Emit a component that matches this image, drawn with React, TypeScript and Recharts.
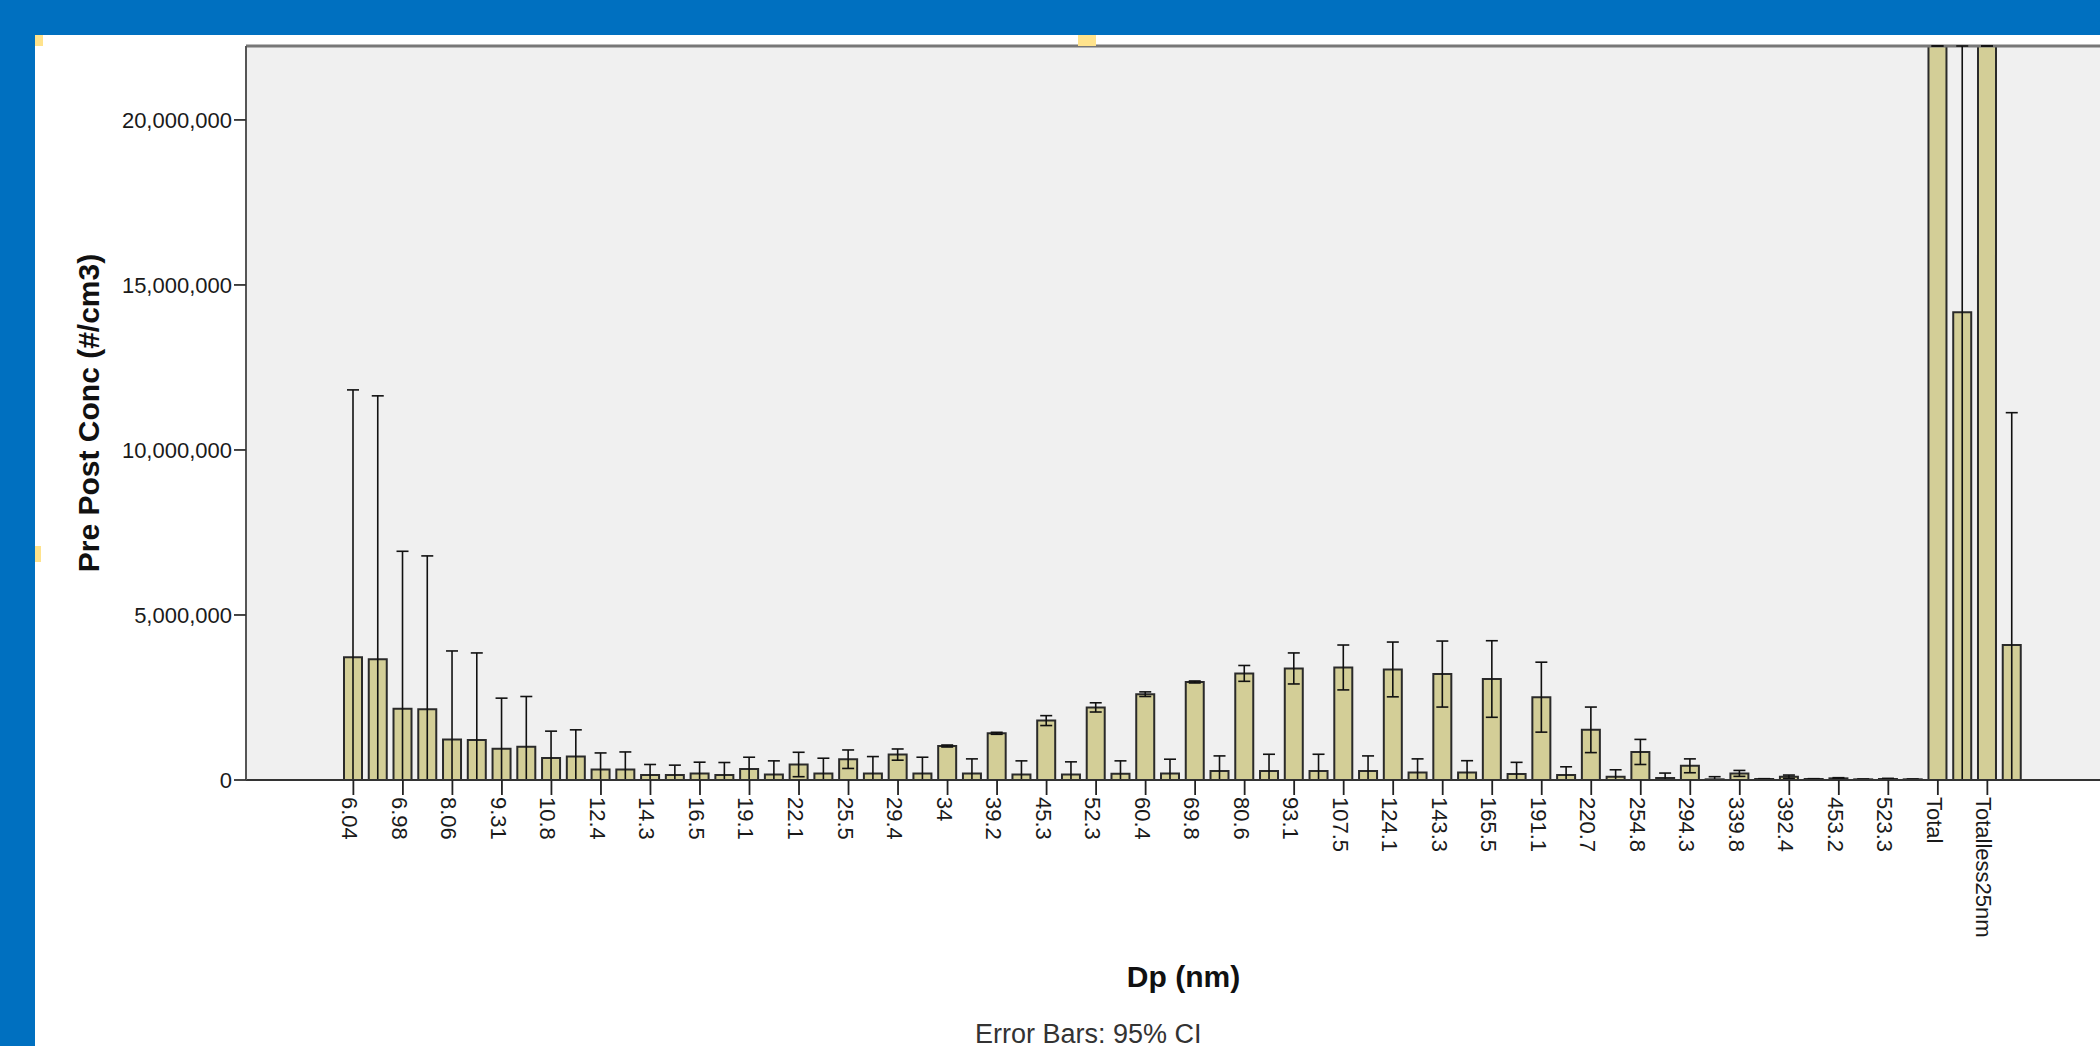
import React from 'react';
import { BarChart, Bar, XAxis, YAxis, CartesianGrid, ErrorBar, ReferenceLine, Label } from 'recharts';

// Dp bins (every labelled category is followed by an unlabelled companion bar)
const dpLabels = [
  '6.04', '6.98', '8.06', '9.31', '10.8', '12.4', '14.3', '16.5', '19.1', '22.1',
  '25.5', '29.4', '34', '39.2', '45.3', '52.3', '60.4', '69.8', '80.6', '93.1',
  '107.5', '124.1', '143.3', '165.5', '191.1', '220.7', '254.8', '294.3', '339.8',
  '392.4', '453.2', '523.3', 'Total', 'Totalless25nm',
];

// labelled bar (pre) mean and 95% CI half-width
const preMean = [
  3720000, 2160000, 1230000, 950000, 670000, 320000, 150000, 200000, 330000, 470000,
  630000, 770000, 1030000, 1415000, 1800000, 2200000, 2600000, 2970000, 3230000, 3380000,
  3410000, 3350000, 3210000, 3060000, 2510000, 1520000, 850000, 430000, 200000,
  100000, 50000, 30000, 31500000, 27000000,
];
const preCI = [
  8100000, 4770000, 2680000, 1530000, 810000, 500000, 320000, 340000, 360000, 370000,
  280000, 170000, 30000, 30000, 150000, 140000, 70000, 30000, 240000, 470000,
  680000, 830000, 1000000, 1160000, 1060000, 690000, 380000, 210000, 90000,
  50000, 20000, 20000, 4000000, 3000000,
];

// unlabelled companion bar (post) mean and 95% CI half-width
const postMean = [
  3660000, 2140000, 1210000, 1010000, 710000, 320000, 150000, 150000, 170000, 200000,
  200000, 200000, 200000, 170000, 170000, 190000, 200000, 270000, 270000, 270000,
  270000, 230000, 230000, 180000, 150000, 100000, 60000, 20000, 30000,
  30000, 20000, 20000, 14170000, 4090000,
];
const postCI = [
  7980000, 4650000, 2640000, 1520000, 810000, 530000, 300000, 380000, 410000, 460000,
  510000, 490000, 440000, 410000, 380000, 390000, 430000, 460000, 510000, 510000,
  460000, 410000, 355000, 355000, 250000, 210000, 150000, 80000, 10000,
  10000, 10000, 10000, 16000000, 7040000,
];

const yTicks = [0, 5000000, 10000000, 15000000, 20000000];
const Y_MAX = 22240000;

const clampY = (v: number) => Math.min(Math.max(v, 0), Y_MAX);
const makeRow = (name: string, mean: number, half: number) => {
  const lo = clampY(mean - half);
  const hi = clampY(mean + half);
  return { name, value: mean, err: [mean - lo, hi - mean] };
};

const data = dpLabels.flatMap((label, k) => [
  makeRow(label, preMean[k], preCI[k]),
  makeRow(label + ' post', postMean[k], postCI[k]),
]);

const FONT = '"Liberation Sans", Arial, Helvetica, sans-serif';

const XTick = (props: any) => {
  const { x, y, payload } = props;
  return (
    <g transform={`translate(${x},${y})`}>
      <text
        transform="rotate(90)"
        x={0}
        y={0}
        dy="0.5em"
        textAnchor="start"
        fill="#1a1a1a"
        fontSize={22}
        fontFamily={FONT}
      >
        {payload.value}
      </text>
    </g>
  );
};

const renderYTitle = (props: any) => {
  const vb = props.viewBox || { x: 0, y: 46, width: 246, height: 734 };
  const cx = vb.x + 88;
  const cy = vb.y + vb.height / 2;
  return (
    <text
      x={cx}
      y={cy}
      transform={`rotate(-90, ${cx}, ${cy})`}
      textAnchor="middle"
      dominantBaseline="central"
      fontWeight="bold"
      fontSize={30}
      fill="#111"
      fontFamily={FONT}
    >
      Pre Post Conc (#/cm3)
    </text>
  );
};

const renderXTitle = (props: any) => {
  const vb = props.viewBox || { x: 246, y: 780, width: 1875, height: 266 };
  return (
    <g>
      <text
        x={vb.x + vb.width / 2}
        y={vb.y + 207}
        textAnchor="middle"
        fontWeight="bold"
        fontSize={30}
        fill="#111"
        fontFamily={FONT}
      >
        Dp (nm)
      </text>
      <text x={vb.x + 729} y={vb.y + 263} fontSize={27} fill="#333" fontFamily={FONT}>
        Error Bars: 95% CI
      </text>
    </g>
  );
};

const marker = (left: number, top: number, w: number, h: number): React.CSSProperties => ({
  position: 'absolute',
  left,
  top,
  width: w,
  height: h,
  background: '#FFE38C',
});

export default function App() {
  return (
    <div
      style={{
        position: 'fixed',
        left: 0,
        top: 0,
        width: 2100,
        height: 1046,
        overflow: 'hidden',
        background: '#0070C0',
      }}
    >
      <div style={{ position: 'absolute', left: 35, top: 35, right: 0, bottom: 0, background: '#FFFFFF' }} />
      <div style={{ position: 'absolute', left: 0, top: 0 }}>
        <BarChart
          width={2140}
          height={1046}
          data={data}
          margin={{ top: 46, right: 19, bottom: 0, left: 0 }}
          barSize={18}
        >
          <CartesianGrid fill="#F0F0F0" stroke="none" />
          <XAxis
            dataKey="name"
            type="category"
            interval={1}
            height={266}
            padding={{ left: 95, right: 96.5 }}
            axisLine={{ stroke: '#333', strokeWidth: 2 }}
            tickLine={{ stroke: '#222', strokeWidth: 1.8 }}
            tickSize={15}
            tickMargin={2}
            tick={<XTick />}
          >
            <Label content={renderXTitle} />
          </XAxis>
          <YAxis
            type="number"
            domain={[0, Y_MAX]}
            allowDataOverflow
            ticks={yTicks}
            width={246}
            axisLine={{ stroke: '#555', strokeWidth: 2 }}
            tickLine={{ stroke: '#333', strokeWidth: 1.8 }}
            tickSize={12}
            tickMargin={2}
            tick={{ fill: '#1a1a1a', fontSize: 22, fontFamily: FONT }}
            tickFormatter={(v: number) => v.toLocaleString('en-US')}
          >
            <Label content={renderYTitle} />
          </YAxis>
          <ReferenceLine y={Y_MAX} stroke="#777" strokeWidth={3} />
          <Bar
            dataKey="value"
            fill="#D3CE97"
            stroke="#2a2a2a"
            strokeWidth={2}
            isAnimationActive={false}
          >
            <ErrorBar dataKey="err" direction="y" width={6} strokeWidth={1.6} stroke="#111" isAnimationActive={false} />
          </Bar>
        </BarChart>
      </div>
      <div style={marker(35, 35, 8, 11)} />
      <div style={marker(1078, 35, 18, 11)} />
      <div style={marker(35, 546, 6, 16)} />
    </div>
  );
}
